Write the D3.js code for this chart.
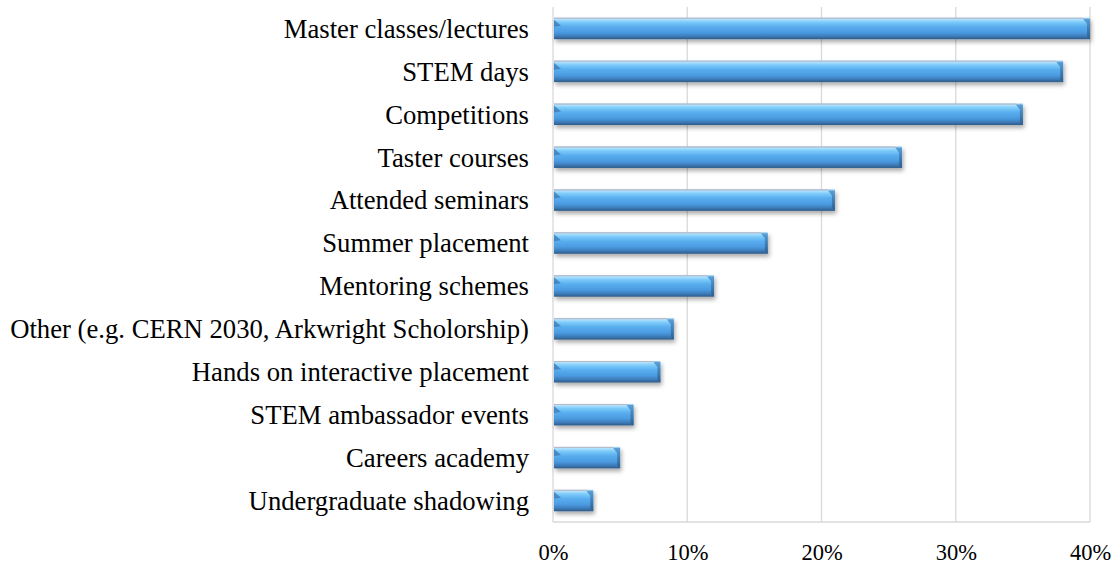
<!DOCTYPE html>
<html>
<head>
<meta charset="utf-8">
<script src="https://cdn.jsdelivr.net/npm/d3@7/dist/d3.min.js"></script>
<style>
  html, body { margin: 0; padding: 0; background: #fff; }
  svg { display: block; }
</style>
</head>
<body>
<svg id="chart" width="1118" height="565"></svg>
<script>
const categories = [
  "Master classes/lectures",
  "STEM days",
  "Competitions",
  "Taster courses",
  "Attended seminars",
  "Summer placement",
  "Mentoring schemes",
  "Other (e.g. CERN 2030, Arkwright Scholorship)",
  "Hands on interactive placement",
  "STEM ambassador events",
  "Careers academy",
  "Undergraduate shadowing"
];
const values = [0.40, 0.38, 0.35, 0.26, 0.21, 0.16, 0.12, 0.09, 0.08, 0.06, 0.05, 0.03];
const tickValues = [0, 0.1, 0.2, 0.3, 0.4];
const tickLabels = ["0%", "10%", "20%", "30%", "40%"];

const svg = d3.select("#chart");
const m = { left: 553, right: 1090, top: 7, bottom: 522 };

const x = d3.scaleLinear().domain([0, 0.4]).range([m.left, m.right]);
const y = d3.scaleBand().domain(categories).range([m.top, m.bottom]).paddingInner(0.5).paddingOuter(0.25);

const defs = svg.append("defs");
const grad = defs.append("linearGradient").attr("id", "barGrad").attr("x1", 0).attr("y1", 0).attr("x2", 0).attr("y2", 1);
[["0%", "#8ec6ee"], ["7%", "#b2e2fd"], ["20%", "#7ccbfa"], ["42%", "#58adee"], ["68%", "#4b9be1"], ["84%", "#3f80c0"], ["100%", "#2e5b88"]]
  .forEach(([o, c]) => grad.append("stop").attr("offset", o).attr("stop-color", c));
const gradR = defs.append("linearGradient").attr("id", "endGrad").attr("x1", 0).attr("y1", 0).attr("x2", 0).attr("y2", 1);
[["0%", "#4f93cf"], ["100%", "#2c5a86"]].forEach(([o, c]) => gradR.append("stop").attr("offset", o).attr("stop-color", c));
const f = defs.append("filter").attr("id", "shadow").attr("x", "-5%").attr("y", "-30%").attr("width", "115%").attr("height", "190%");
f.append("feDropShadow").attr("dx", 1.5).attr("dy", 3).attr("stdDeviation", 2).attr("flood-color", "#000").attr("flood-opacity", 0.33);

// gridlines
svg.append("g").selectAll("line").data(tickValues).join("line")
  .attr("x1", d => x(d)).attr("x2", d => x(d))
  .attr("y1", m.top).attr("y2", m.bottom)
  .attr("stroke", "#d9d9d9").attr("stroke-width", 1.3);
svg.append("line").attr("x1", m.left).attr("x2", m.right).attr("y1", m.bottom).attr("y2", m.bottom)
  .attr("stroke", "#d9d9d9").attr("stroke-width", 1.3);

// bars
const bars = svg.append("g").selectAll("g").data(categories).join("g");
bars.append("rect")
  .attr("x", x(0) + 1).attr("y", d => y(d))
  .attr("width", (d, i) => x(values[i]) - x(0) - 1)
  .attr("height", y.bandwidth())
  .attr("fill", "url(#barGrad)")
  .attr("filter", "url(#shadow)");
// right bevel
bars.append("path")
  .attr("d", (d, i) => {
    const x1 = x(values[i]), y0 = y(d), h = y.bandwidth();
    return `M${x1 - 7},${y0 + 1} L${x1},${y0 + 1} L${x1},${y0 + h} L${x1 - 3},${y0 + h - 3} L${x1 - 3},${y0 + 6} Z`;
  })
  .attr("fill", "url(#endGrad)").attr("opacity", 0.85);
// left bevel
bars.append("path")
  .attr("d", (d, i) => {
    const x0 = x(0) + 1, y0 = y(d);
    return `M${x0},${y0 + 2} L${x0 + 7},${y0 + 8} L${x0},${y0 + 9} Z`;
  })
  .attr("fill", "#3d7cb8").attr("opacity", 0.8);
// top light edge line
bars.append("line")
  .attr("x1", x(0) + 1).attr("x2", (d, i) => x(values[i]) - 7)
  .attr("y1", d => y(d) + 0.5).attr("y2", d => y(d) + 0.5)
  .attr("stroke", "#b9b9c4").attr("stroke-width", 1);

// category labels
svg.append("g").selectAll("text").data(categories).join("text")
  .attr("x", 529)
  .attr("y", d => y(d) + y.bandwidth() / 2)
  .attr("dy", "0.35em")
  .attr("text-anchor", "end")
  .attr("font-family", "'Liberation Serif', 'Times New Roman', serif")
  .attr("font-size", 26.7)
  .attr("fill", "#000")
  .text(d => d);

// x tick labels
const xAxis = d3.axisBottom(x).tickValues(tickValues).tickFormat((d, i) => tickLabels[i]).tickSize(0).tickPadding(0);
const ax = svg.append("g").attr("transform", `translate(0, ${m.bottom + 22})`).call(xAxis);
ax.select(".domain").remove();
ax.selectAll("text")
  .attr("font-family", "'Liberation Serif', 'Times New Roman', serif")
  .attr("font-size", 22.5).attr("fill", "#000");
</script>
</body>
</html>
